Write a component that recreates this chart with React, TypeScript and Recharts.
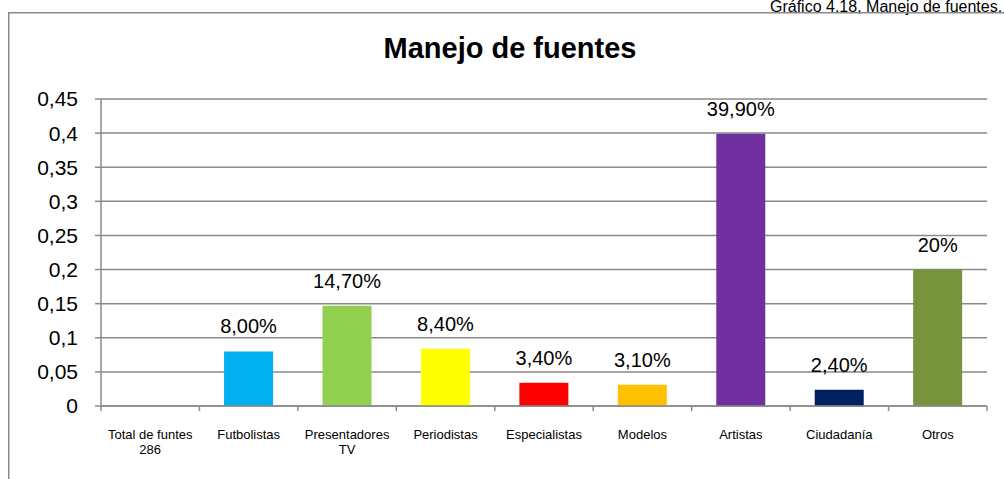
import { BarChart, Bar, XAxis, YAxis, CartesianGrid, Cell, LabelList } from "recharts";

const categories = [
  "Total de funtes\n286",
  "Futbolistas",
  "Presentadores\nTV",
  "Periodistas",
  "Especialistas",
  "Modelos",
  "Artistas",
  "Ciudadanía",
  "Otros",
];
const values = [0, 0.08, 0.147, 0.084, 0.034, 0.031, 0.399, 0.024, 0.2];
const valueLabels = ["", "8,00%", "14,70%", "8,40%", "3,40%", "3,10%", "39,90%", "2,40%", "20%"];
const yTicks = [0, 0.05, 0.1, 0.15, 0.2, 0.25, 0.3, 0.35, 0.4, 0.45];
const barColors = ["#00B0F0", "#00B0F0", "#92D050", "#FFFF00", "#FF0000", "#FFC000", "#7030A0", "#002060", "#77933C"];

const data = categories.map((name, i) => ({ name, value: values[i], label: valueLabels[i] }));

const FONT = '"Liberation Sans", Arial, sans-serif';
const GRID = "#8a8a8a";
const PLOT_LEFT = 101;
const PLOT_RIGHT = 987;
const BAND = (PLOT_RIGHT - PLOT_LEFT) / categories.length;

const fmtTick = (v: number) => String(Math.round(v * 100) / 100).replace(".", ",");

const CategoryTick = (props: any) => {
  const { x, y, payload, index } = props;
  const half = BAND / 2;
  const lines = String(payload.value).split("\n");
  return (
    <g>
      <line x1={x - half} y1={y - 5} x2={x - half} y2={y} stroke={GRID} strokeWidth={1.5} />
      {index === categories.length - 1 && (
        <line x1={x + half} y1={y - 5} x2={x + half} y2={y} stroke={GRID} strokeWidth={1.5} />
      )}
      <text x={x} y={y + 28} textAnchor="middle" fontSize={13} fill="#000" fontFamily={FONT}>
        {lines.map((l, i) => (
          <tspan key={i} x={x} dy={i === 0 ? 0 : 15}>
            {l}
          </tspan>
        ))}
      </text>
    </g>
  );
};

export default function App() {
  return (
    <div
      style={{
        position: "absolute",
        left: 0,
        top: 0,
        width: 1004,
        height: 479,
        overflow: "hidden",
        background: "#fff",
        fontFamily: FONT,
      }}
    >
      <svg width={1004} height={479} style={{ position: "absolute", left: 0, top: 0 }}>
        <text x={770} y={12} fontSize={16} fill="#000" fontFamily={FONT}>
          Gráfico 4.18, Manejo de fuentes.
        </text>
        <rect x={8.75} y={12.75} width={1100} height={600} fill="none" stroke={GRID} strokeWidth={1.5} />
        <text x={510} y={58} fontSize={29} fontWeight="bold" textAnchor="middle" fill="#000" fontFamily={FONT}>
          Manejo de fuentes
        </text>
      </svg>
      <div style={{ position: "absolute", left: 0, top: 0 }}>
        <BarChart
          width={1004}
          height={479}
          data={data}
          margin={{ top: 99, right: 1004 - PLOT_RIGHT, bottom: 13, left: 0 }}
          barCategoryGap="25%"
        >
          <CartesianGrid horizontal vertical={false} stroke={GRID} strokeWidth={1.5} />
          <XAxis
            dataKey="name"
            interval={0}
            height={60}
            tickSize={5}
            tickMargin={0}
            tickLine={false}
            axisLine={{ stroke: GRID, strokeWidth: 1.5 }}
            tick={<CategoryTick />}
          />
          <YAxis
            width={PLOT_LEFT}
            domain={[0, 0.45]}
            ticks={yTicks}
            tickFormatter={fmtTick}
            tickSize={6}
            tickMargin={17}
            tickLine={{ stroke: GRID, strokeWidth: 1.5 }}
            axisLine={{ stroke: GRID, strokeWidth: 1.5 }}
            tick={{ fontSize: 21, fill: "#000", fontFamily: FONT }}
          />
          <Bar dataKey="value" isAnimationActive={false}>
            {data.map((_, i) => (
              <Cell key={i} fill={barColors[i]} />
            ))}
            <LabelList dataKey="label" position="top" offset={18} fontSize={20} fill="#000" fontFamily={FONT} />
          </Bar>
        </BarChart>
      </div>
    </div>
  );
}
